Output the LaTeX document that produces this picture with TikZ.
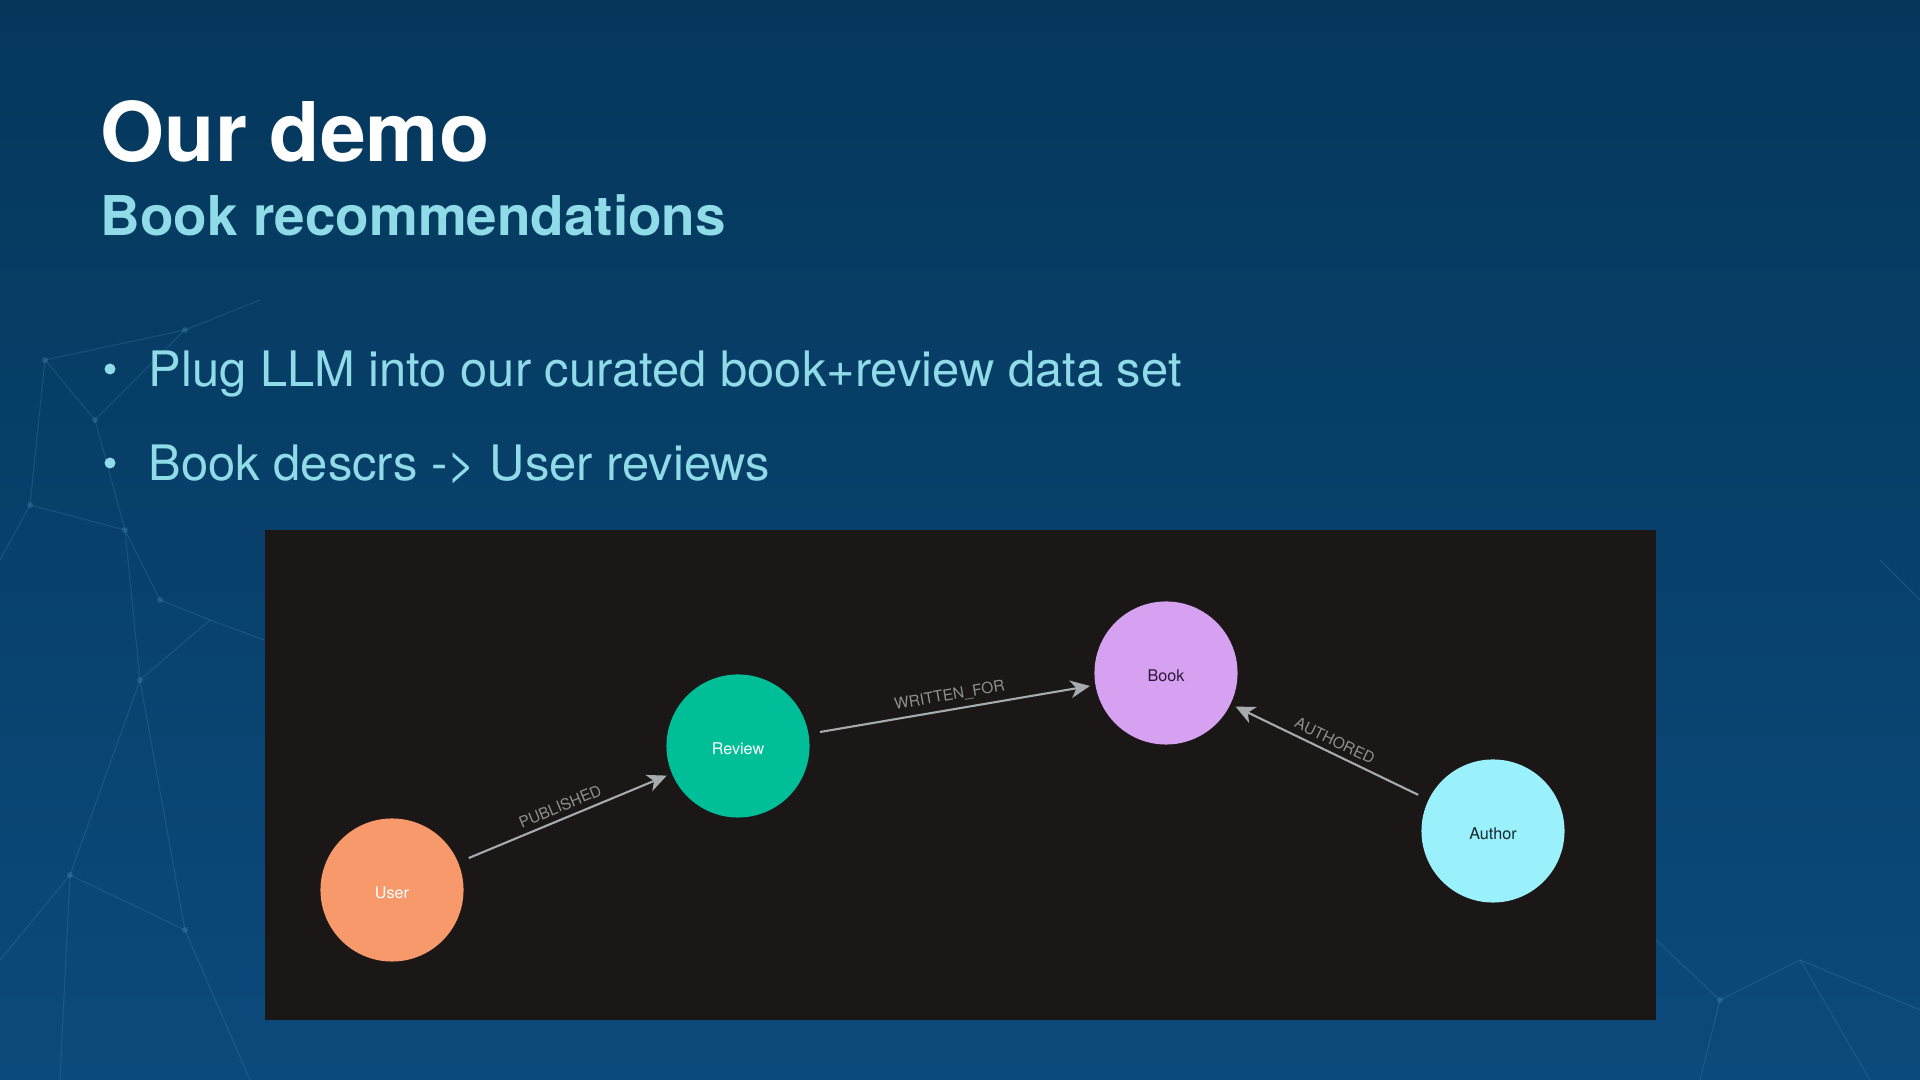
\documentclass[tikz,border=0pt]{standalone}
\usepackage{fontspec}
\setmainfont{TeX Gyre Heros}
\usepackage{tikz,xcolor}
\usetikzlibrary{arrows.meta}

\definecolor{bgtop}{HTML}{05375B}
\definecolor{bgbot}{HTML}{0B4A7C}
\definecolor{netline}{HTML}{5F9FC8}
\definecolor{subcyan}{HTML}{8FDCE8}
\definecolor{panel}{HTML}{1A1716}
\definecolor{usercol}{HTML}{F7996A}
\definecolor{reviewcol}{HTML}{00BE98}
\definecolor{bookcol}{HTML}{D7A1F2}
\definecolor{authorcol}{HTML}{9AF1FC}
\definecolor{relcol}{HTML}{A7ABAF}
\definecolor{rellabel}{HTML}{8F8F8F}
\definecolor{booktext}{HTML}{2E1638}
\definecolor{authortext}{HTML}{10282C}

\tikzset{
  % style for the circles of the graph
  gnode/.style={circle, minimum size=1.43cm, inner sep=0pt,
    text height=5pt, text depth=0pt,
    font=\fontsize{4.6}{5}\selectfont},
  % style for a relation between two circles
  rel/.style={draw=relcol, line width=0.6pt,
    -{Stealth[length=5.5pt,width=5pt,inset=1.6pt]},
    shorten <=3.1pt, shorten >=1.4pt},
  rellab/.style={sloped, above, text=rellabel, inner sep=1.6pt,
    font=\fontsize{4.4}{5}\selectfont},
  % faint lines of the background network
  net/.style={draw=netline, line width=0.3pt, opacity=0.2},
}

\begin{document}
\begin{tikzpicture}[x=0.01cm, y=-0.01cm]
  % Draw the background
  \shade[top color=bgtop, bottom color=bgbot] (0,0) rectangle (1920,1080);
  \useasboundingbox (0,0) rectangle (1920,1080);
  \draw[net] (45,360) -- (185,330) -- (95,420) -- (45,360) -- (30,505) -- (125,530) -- (95,420);
  \draw[net] (125,530) -- (160,600) -- (210,620) -- (140,680) -- (125,530);
  \draw[net] (30,505) -- (0,560) (140,680) -- (70,875) -- (185,930) -- (140,680);
  \draw[net] (70,875) -- (0,960) (185,930) -- (250,1080) (70,875) -- (60,1080);
  \draw[net] (185,330) -- (260,300) (210,620) -- (264,640);
  \draw[net] (1656,940) -- (1720,1000) -- (1800,960) -- (1870,1080) (1720,1000) -- (1700,1080);
  \draw[net] (1800,960) -- (1920,1010) (1880,560) -- (1920,600);
  \foreach \p in {(45,360),(185,330),(95,420),(30,505),(125,530),(160,600),(140,680),(70,875),(185,930),(1720,1000)}
    \fill[netline, opacity=0.25] \p circle (3);

  % Titles and bullets
  \node[anchor=base west, inner sep=0pt, text=white,
    font=\fontsize{23.4}{26}\selectfont\bfseries] (title) at (100,162) {Our demo};
  \node[anchor=base west, inner sep=0pt, text=subcyan,
    font=\fontsize{15.6}{18}\selectfont\bfseries] (subtitle) at (100,236) {Book recommendations};
  \node[anchor=base west, inner sep=0pt, text=subcyan,
    font=\fontsize{13.9}{16}\selectfont] (bulletA) at (148,387) {Plug LLM into our curated book+review data set};
  \node[anchor=base west, inner sep=0pt, text=subcyan,
    font=\fontsize{13.9}{16}\selectfont] (bulletB) at (148,481) {Book descrs -> User reviews};
  \fill[subcyan] (110,369) circle (5.5);
  \fill[subcyan] (110,463) circle (5.5);

  % Draw the panel with the graph
  \fill[panel] (264.5,530) rectangle (1655.5,1020);
  \node[gnode, fill=usercol, text=white] (user) at (392,890) {User};
  \node[gnode, fill=reviewcol, text=white] (review) at (738,746) {Review};
  \node[gnode, fill=bookcol, text=booktext] (book) at (1166,673) {Book};
  \node[gnode, fill=authorcol, text=authortext] (author) at (1493,831) {Author};
  \draw[rel] (user) -- node[rellab] {PUBLISHED} (review);
  \draw[rel] (review) -- node[rellab] {WRITTEN\_FOR} (book);
  \draw[rel] (author) -- node[rellab] {AUTHORED} (book);
\end{tikzpicture}
\end{document}
